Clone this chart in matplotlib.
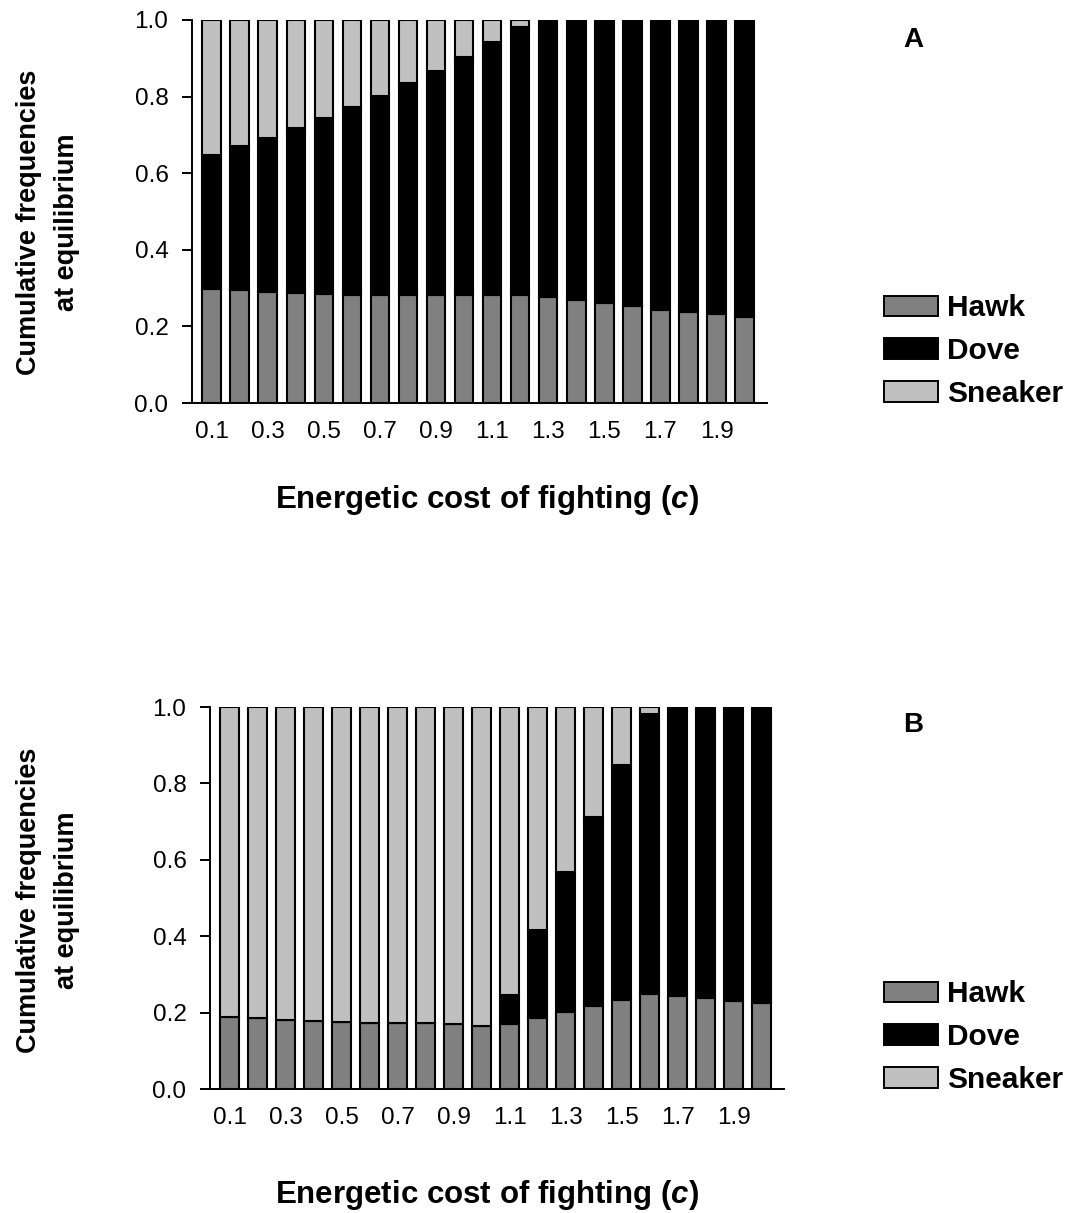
import matplotlib
matplotlib.use("Agg")
import matplotlib.pyplot as plt
import numpy as np
from matplotlib.patches import Patch

plt.rcParams['font.family'] = ['Liberation Sans', 'DejaVu Sans']
plt.rcParams['mathtext.fontset'] = 'custom'
plt.rcParams['mathtext.it'] = 'Liberation Sans:italic:bold'
plt.rcParams['mathtext.rm'] = 'Liberation Sans:bold'

# energetic cost of fighting, c = 0.1 ... 2.0
costs = [f"{v / 10:.1f}" for v in range(1, 21)]

# panel A: frequencies at equilibrium
hawk_a = [0.297, 0.294, 0.290, 0.287, 0.285, 0.283, 0.282, 0.281, 0.281, 0.281,
          0.281, 0.283, 0.277, 0.269, 0.260, 0.252, 0.244, 0.237, 0.232, 0.225]
dove_a = [0.351, 0.376, 0.403, 0.430, 0.458, 0.489, 0.520, 0.554, 0.587, 0.622,
          0.661, 0.700, 0.723, 0.731, 0.740, 0.748, 0.756, 0.763, 0.768, 0.775]
sneaker_a = [0.352, 0.330, 0.307, 0.283, 0.257, 0.228, 0.198, 0.165, 0.132, 0.097,
             0.058, 0.017, 0.0, 0.0, 0.0, 0.0, 0.0, 0.0, 0.0, 0.0]

# panel B
hawk_b = [0.188, 0.185, 0.181, 0.178, 0.176, 0.174, 0.172, 0.172, 0.169, 0.166,
          0.170, 0.186, 0.201, 0.216, 0.232, 0.248, 0.244, 0.237, 0.231, 0.225]
dove_b = [0.0, 0.0, 0.0, 0.0, 0.0, 0.0, 0.0, 0.0, 0.0, 0.0,
          0.077, 0.229, 0.366, 0.496, 0.616, 0.733, 0.756, 0.763, 0.769, 0.775]
sneaker_b = [0.812, 0.815, 0.819, 0.822, 0.824, 0.826, 0.828, 0.828, 0.831, 0.834,
             0.753, 0.585, 0.433, 0.288, 0.152, 0.019, 0.0, 0.0, 0.0, 0.0]

tick_labels = costs[::2]
colors = {"Hawk": "#808080", "Dove": "#000000", "Sneaker": "#c0c0c0"}

W, H = 1075, 1213
fig = plt.figure(figsize=(W / 100, H / 100), dpi=100)
ax_a = fig.add_axes([192 / W, 1 - 403 / H, 575 / W, 383 / H])
ax_b = fig.add_axes([210 / W, 1 - 1089 / H, 574 / W, 382 / H])


def stacked(ax, hawk, dove, sneaker, letter, legend_y, letter_y, xlab_y, ylab_y):
    x = np.arange(len(costs))
    hawk = np.array(hawk)
    dove = np.array(dove)
    sneaker = np.array(sneaker)
    kw = dict(width=0.66, edgecolor="black", linewidth=1.5)
    ax.bar(x, hawk, color=colors["Hawk"], **kw)
    ax.bar(x, dove, bottom=hawk, color=colors["Dove"], **kw)
    ax.bar(x, sneaker, bottom=hawk + dove, color=colors["Sneaker"], **kw)
    ax.set_xlim(-0.7, 19.8)
    ax.set_ylim(0, 1.0)
    yt = np.arange(0, 1.01, 0.2)
    ax.set_yticks(yt)
    ax.set_yticklabels([f"{v:.1f}" for v in yt])
    ax.set_xticks(x[::2])
    ax.set_xticklabels(tick_labels)
    ax.tick_params(axis="y", direction="out", length=7, width=1.4, labelsize=17.5, pad=10)
    ax.tick_params(axis="x", length=0, labelsize=17.5, pad=13)
    for s in ["top", "right"]:
        ax.spines[s].set_visible(False)
    ax.spines["left"].set_linewidth(1.4)
    ax.spines["bottom"].set_linewidth(1.4)

    handles = [Patch(facecolor=colors[k], edgecolor="black", linewidth=1.4, label=k)
               for k in ["Hawk", "Dove", "Sneaker"]]
    fig.legend(handles=handles, loc="center left",
               bbox_to_anchor=(884 / W, 1 - legend_y / H),
               frameon=False, prop={"weight": "bold", "size": 21.5},
               borderpad=0, borderaxespad=0,
               handlelength=1.8, handleheight=0.66, handletextpad=0.3, labelspacing=0.5)
    fig.text(913 / W, 1 - letter_y / H, letter, fontsize=20, fontweight="bold",
             ha="center", va="center")
    fig.text(487 / W, 1 - xlab_y / H, r"Energetic cost of fighting ($\it{c}$)",
             ha="center", va="center", fontsize=22.5, fontweight="bold")
    fig.text(48 / W, 1 - ylab_y / H, "Cumulative frequencies\nat equilibrium",
             rotation=90, ha="center", va="center", fontsize=19.5,
             fontweight="bold", linespacing=1.55)


stacked(ax_a, hawk_a, dove_a, sneaker_a, "A", 351, 40, 500, 222)
stacked(ax_b, hawk_b, dove_b, sneaker_b, "B", 1037, 725, 1195, 900)

plt.savefig("out.png", dpi=100)
